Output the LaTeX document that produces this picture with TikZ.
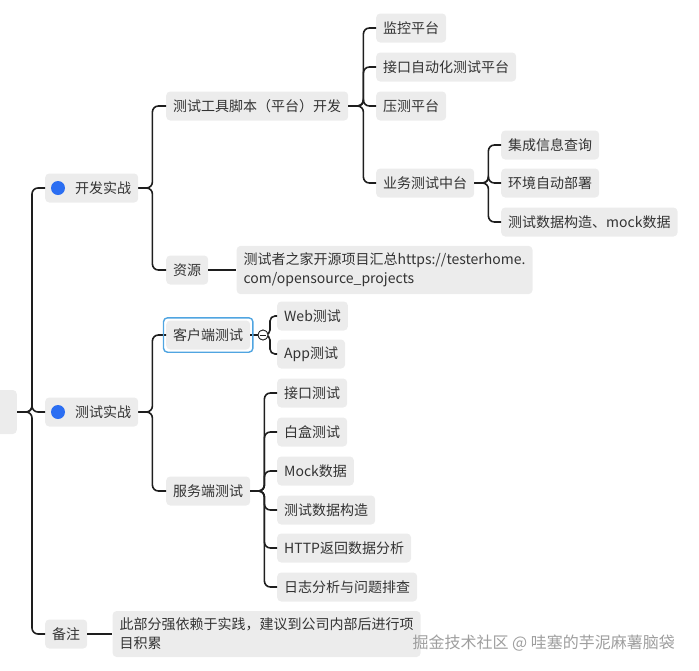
\documentclass[tikz,border=0pt]{standalone}
\usepackage{fontspec}
\setmainfont{Noto Sans CJK SC}
\definecolor{ink}{RGB}{51,51,51}
\definecolor{tile}{RGB}{236,236,236}
\definecolor{wire}{RGB}{30,30,30}
\definecolor{dotblue}{RGB}{43,110,242}
\definecolor{selblue}{RGB}{80,165,225}
\usetikzlibrary{positioning,fit}
\tikzset{
  topic/.style={fill=tile,rounded corners=4pt,text=ink,anchor=west,align=left,
                font=\fontsize{14}{19}\selectfont,inner xsep=7pt,inner ysep=0pt,
                minimum height=29pt},
  memo/.style={topic,inner ysep=7pt},
  link/.style={draw=wire,line width=1.6pt,rounded corners=6pt},
  sel/.style={draw=selblue,line width=1.4pt,rounded corners=4pt,inner sep=2.5pt},
  fold/.style={circle,draw=wire,fill=white,line width=0.8pt,minimum size=10pt,inner sep=0pt},
  stamp/.style={text=black!38,font=\fontsize{16}{18}\selectfont,anchor=west},
}
\begin{document}
\begin{tikzpicture}[x=1pt,y=-1pt]
  \useasboundingbox (0,0) rectangle (699,670);
  % root, cut off at the left edge
  \node[topic,anchor=east,minimum width=60pt,minimum height=44pt] (root) at (17,412) {};
  \node[topic] (dev) at (45,188) {\hspace*{23pt}开发实战};
  \node[topic] (test) at (45,412) {\hspace*{23pt}测试实战};
  \node[topic] (note) at (45,634) {备注};
  \node[memo,right=25pt of note] (notetext) {此部分强依赖于实践，建议到公司内部后进行项\\目积累};
  % development branch
  \node[topic] (tool) at (166,106) {测试工具脚本（平台）开发};
  \node[topic] (res) at (166,270) {资源};
  \node[memo,right=28pt of res] (restext) {测试者之家开源项目汇总https://testerhome.\\com/opensource\_projects};
  \node[topic] (mon) at (376,28) {监控平台};
  \node[topic] (api) at (376,67) {接口自动化测试平台};
  \node[topic] (load) at (376,106) {压测平台};
  \node[topic] (biz) at (376,183) {业务测试中台};
  \node[topic] (info) at (501,145) {集成信息查询};
  \node[topic] (env) at (501,183) {环境自动部署};
  \node[topic] (data) at (501,222) {测试数据构造、mock数据};
  % testing branch
  \node[topic] (cli) at (166,335) {客户端测试};
  \node[topic] (srv) at (166,491) {服务端测试};
  \node[topic] (web) at (277,316) {Web测试};
  \node[topic] (app) at (277,354) {App测试};
  \node[topic] (iface) at (277,393) {接口测试};
  \node[topic] (wbox) at (277,432) {白盒测试};
  \node[topic] (mock) at (277,471) {Mock数据};
  \node[topic] (tdata) at (277,510) {测试数据构造};
  \node[topic] (http) at (277,548) {HTTP返回数据分析};
  \node[topic] (logs) at (277,587) {日志分析与问题排查};

  \foreach \c in {dev,test,note}
    \draw[link] (root.east) -- ++(15,0) |- (\c.west);
  \foreach \c in {tool,res}
    \draw[link] (dev.east) -- ++(14,0) |- (\c.west);
  \foreach \c in {mon,api,load,biz}
    \draw[link] (tool.east) -- ++(15,0) |- (\c.west);
  \foreach \c in {info,env,data}
    \draw[link] (biz.east) -- ++(14,0) |- (\c.west);
  \foreach \c in {cli,srv}
    \draw[link] (test.east) -- ++(14,0) |- (\c.west);
  \foreach \c in {iface,wbox,mock,tdata,http,logs}
    \draw[link] (srv.east) -- ++(14,0) |- (\c.west);
  \draw[link] (res.east) -- (restext.west);
  \draw[link] (note.east) -- (notetext.west);

  % collapse toggle of the selected topic
  \node[fold] (tog) at (263,335) {};
  \foreach \c in {web,app}
    \draw[link,rounded corners=5pt] (tog.center) -- ++(7,0) |- (\c.west);
  \draw[link] (cli.east) -- (tog.west);
  \node[fold] at (tog) {};
  \draw[wire,line width=0.8pt] ([xshift=2.2pt]tog.west) -- ([xshift=-2.2pt]tog.east);
  \node[sel,fit=(cli)] (clisel) {};

  \fill[dotblue] ([xshift=13pt]dev.west) circle (7pt);
  \fill[dotblue] ([xshift=13pt]test.west) circle (7pt);

  \node[stamp] (wm) at (409,643) {掘金技术社区 @ 哇塞的芋泥麻薯脑袋};
\end{tikzpicture}
\end{document}
